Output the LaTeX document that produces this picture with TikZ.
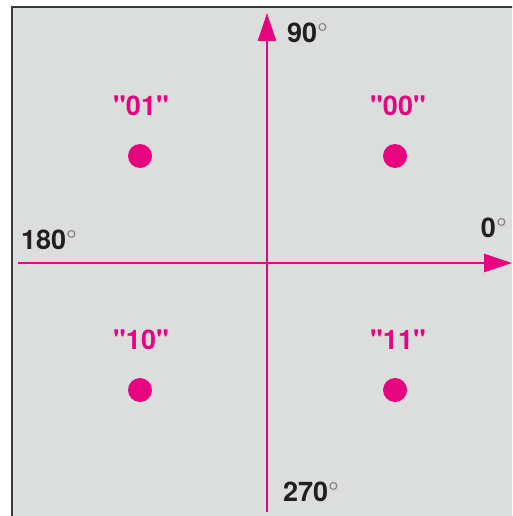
\documentclass[tikz,border=0pt]{standalone}
\usepackage{fontspec}
\setmainfont{TeX Gyre Heros}
\newfontfamily\plainfont{TeX Gyre Heros}
\usetikzlibrary{arrows.meta}
\definecolor{mag}{HTML}{E6057F}
\definecolor{bg}{HTML}{DCDDDD}
\definecolor{frame}{HTML}{3A3A3A}
\definecolor{txt}{HTML}{231F20}
\tikzset{
  axis/.style={draw=mag, line width=2.6pt, -{Triangle[length=28pt,width=18pt]}},
  deg/.style={text=txt, font=\fontsize{27}{31}\selectfont\bfseries, inner sep=0pt},
  code/.style={text=mag, font=\plainfont\fontsize{27}{31}\selectfont\bfseries, inner sep=0pt},
  dot/.style={circle, fill=mag, minimum size=24pt, inner sep=0pt}
}
\newcommand{\dg}{{\mdseries\textcolor{gray}{°}}}
\begin{document}
\begin{tikzpicture}[x=1pt,y=-1pt]
\useasboundingbox (0,0) rectangle (512,516);
\clip (0,0) rectangle (512,516);
\draw[fill=bg, draw=frame, line width=2pt] (12,7) rectangle (530,530);
\coordinate (vb) at (267,512);
\coordinate (vt) at (267,13);
\coordinate (hl) at (18,263);
\coordinate (hr) at (512,263);
\draw[axis] (vb) -- (vt);
\draw[axis] (hl) -- (hr);
\node[deg, anchor=west] (l90) at (287,33) {90\dg};
\node[deg, anchor=west] (l270) at (283,492) {270\dg};
\node[deg, anchor=west] (l180) at (21,240) {180\dg};
\node[deg, anchor=east] (l0) at (507,228) {0\dg};
\node[dot] (d01) at (140,156) {};
\node[dot] (d00) at (395,156) {};
\node[dot] (d10) at (140,390) {};
\node[dot] (d11) at (395,390) {};
\node[code] (c01) at (141,106) {"01"};
\node[code] (c00) at (398,106) {"00"};
\node[code] (c10) at (141,340) {"10"};
\node[code] (c11) at (398,340) {"11"};
\end{tikzpicture}
\end{document}
